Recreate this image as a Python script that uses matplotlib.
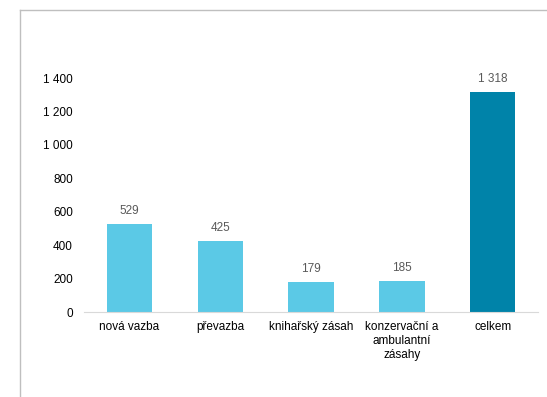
import matplotlib.pyplot as plt
from matplotlib.lines import Line2D

plt.rcParams['font.family'] = ['Liberation Sans', 'DejaVu Sans']

categories = ["nová vazba", "převazba", "knihařský zásah", "konzervační a\nambulantní\nzásahy", "celkem"]
values = [529, 425, 179, 185, 1318]
colors = ["#5BC9E6", "#5BC9E6", "#5BC9E6", "#5BC9E6", "#0083A9"]
ytick_vals = [0, 200, 400, 600, 800, 1000, 1200, 1400]
ytick_labels = ["0", "200", "400", "600", "800", "1 000", "1 200", "1 400"]

fig = plt.figure(figsize=(5.47, 3.97), dpi=100)
ax = fig.add_axes([0.1536, 0.2141, 0.83, 0.5894])

x = range(len(categories))
bars = ax.bar(x, values, width=0.5, color=colors)

for b, v in zip(bars, values):
    label = f"{v:,}".replace(",", " ")
    ax.annotate(label, (b.get_x() + b.get_width() / 2, v), xytext=(0, 5),
                textcoords="offset points", ha="center", va="bottom",
                fontsize=8.5, color="#595959")

ax.set_xlim(-0.5, 4.5)
ax.set_ylim(0, 1400)
ax.set_yticks(ytick_vals)
ax.set_yticklabels(ytick_labels)
ax.set_xticks(list(x))
ax.set_xticklabels(categories, linespacing=1.2)
ax.tick_params(axis="both", length=0, labelsize=8.5, colors="#000000")
ax.tick_params(axis="y", pad=8)
ax.tick_params(axis="x", pad=6.5)

for s in ["top", "right", "left"]:
    ax.spines[s].set_visible(False)
ax.spines["bottom"].set_color("#D9D9D9")

# outer chart frame (top and left edges)
fig.add_artist(Line2D([20 / 547, 1], [1 - 10 / 397, 1 - 10 / 397], color="#BFBFBF", lw=1))
fig.add_artist(Line2D([20 / 547, 20 / 547], [0, 1 - 10 / 397], color="#BFBFBF", lw=1))

fig.savefig("out.png", dpi=100)
